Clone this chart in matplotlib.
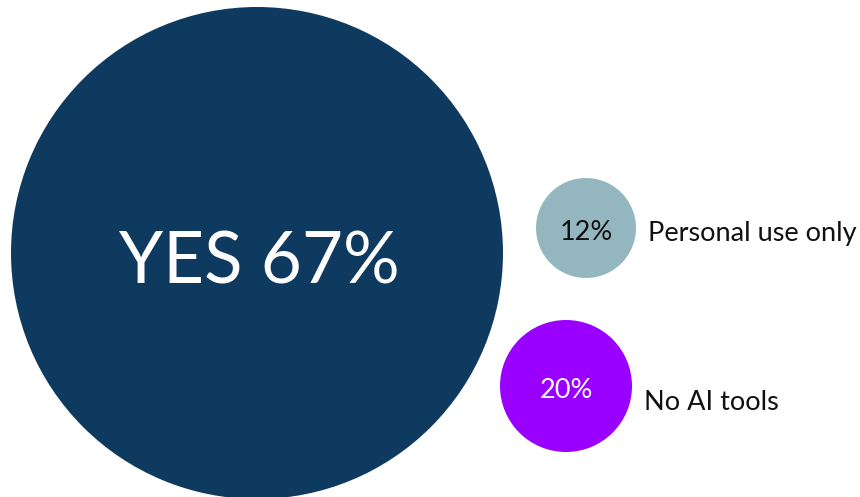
"""Bubble breakdown of AI tool use at work."""

import matplotlib.pyplot as plt
from matplotlib.patches import Circle

plt.rcParams["font.family"] = ["Lato", "DejaVu Sans"]

labels = ["YES", "Personal use only", "No AI tools"]
shares = [67, 12, 20]

# bubble layout in pixel units of the 860x497 canvas
centers = [(257, 253), (586, 228), (566, 386)]
radii = [246, 50, 66]
colors = ["#0e3a5f", "#94b7bf", "#9900ff"]
value_colors = ["white", "#111111", "white"]
# vertical shift of the side label relative to its bubble centre
label_dy = [0, 5, 16]

WIDTH, HEIGHT = 860, 497
LABEL_GAP = 12

fig = plt.figure(figsize=(WIDTH / 100, HEIGHT / 100), dpi=100)
ax = fig.add_axes([0, 0, 1, 1])
ax.set_xlim(0, WIDTH)
ax.set_ylim(HEIGHT, 0)
ax.set_aspect("equal")
ax.axis("off")

for (cx, cy), r, color in zip(centers, radii, colors):
    ax.add_patch(Circle((cx, cy), r, facecolor=color, edgecolor="none"))

# the big bubble carries its label inside, the small ones beside them
cx, cy = centers[0]
ax.text(cx + 2, cy + 10, f"{labels[0]} {shares[0]}%", color=value_colors[0],
        fontsize=51, ha="center", va="center")

for i in (1, 2):
    cx, cy = centers[i]
    ax.text(cx, cy + 4, f"{shares[i]}%", color=value_colors[i],
            fontsize=19.5, ha="center", va="center")
    ax.text(cx + radii[i] + LABEL_GAP, cy + label_dy[i], labels[i],
            color="#111111", fontsize=19.5, ha="left", va="center")

fig.savefig("out.png", dpi=100)
